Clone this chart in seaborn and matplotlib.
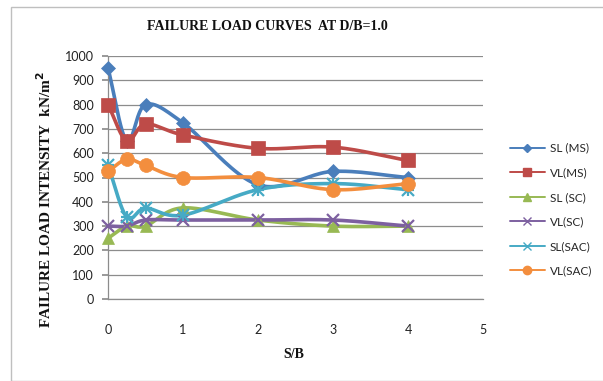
import numpy as np
import pandas as pd
import matplotlib
matplotlib.use("Agg")
import matplotlib.pyplot as plt
import seaborn as sns
from matplotlib.lines import Line2D
from matplotlib.patches import Rectangle

# S/B ratios
sb = [0, 0.25, 0.5, 1, 2, 3, 4]

# Failure load intensity (kN/m^2)
sl_ms = [950, 650, 800, 725, 470, 525, 500]
vl_ms = [800, 650, 720, 675, 620, 625, 570]
sl_sc = [250, 300, 300, 375, 325, 300, 300]
vl_sc = [300, 300, 325, 325, 325, 325, 300]
sl_sac = [550, 337, 374, 345, 450, 475, 450]
vl_sac = [525, 575, 550, 500, 500, 450, 475]

series_names = ["SL (MS)", "VL(MS)", "SL (SC)", "VL(SC)", "SL(SAC)", "VL(SAC)"]
series_vals = [sl_ms, vl_ms, sl_sc, vl_sc, sl_sac, vl_sac]
colors = ["#4A7EBB", "#BE4B48", "#98B954", "#7D60A0", "#46AAC5", "#F38E3E"]
markers = ["D", "s", "^", "x", "x", "o"]
msizes = [7, 10, 9, 9, 9, 10]

sns.set_theme(style="white")
plt.rcParams["font.family"] = ["Lato", "DejaVu Sans"]

W, H = 603, 381
fig = plt.figure(figsize=(W / 100, H / 100), dpi=100)
ax = fig.add_axes([108 / W, 1 - 299 / H, (483 - 108) / W, (299 - 56) / H])

# chart frame
fig.patches.append(Rectangle((11 / W, 0), 1, 1 - 7 / H, transform=fig.transFigure,
                             fill=False, edgecolor="#BFBFBF", lw=1.0, zorder=0))


def smooth(x, y, n=24):
    """Catmull-Rom curve through the points, evaluated in screen-like units."""
    sx, sy = 375 / 5.0, 243 / 1000.0
    P = np.column_stack([np.asarray(x, float) * sx, np.asarray(y, float) * sy])
    P = np.vstack([P[0] - (P[1] - P[0]), P, P[-1] + (P[-1] - P[-2])])
    out = []
    for i in range(1, len(P) - 2):
        p0, p1, p2, p3 = P[i - 1], P[i], P[i + 1], P[i + 2]
        t = np.linspace(0, 1, n, endpoint=False)[:, None]
        seg = 0.5 * ((2 * p1) + (-p0 + p2) * t + (2 * p0 - 5 * p1 + 4 * p2 - p3) * t ** 2
                     + (-p0 + 3 * p1 - 3 * p2 + p3) * t ** 3)
        out.append(seg)
    out.append(P[-2][None, :])
    out = np.vstack(out)
    return out[:, 0] / sx, out[:, 1] / sy


for name, vals, c, m, ms in zip(series_names, series_vals, colors, markers, msizes):
    xs, ys = smooth(sb, vals)
    sns.lineplot(x=xs, y=ys, ax=ax, color=c, lw=2.6, sort=False, estimator=None)
    mew = 1.6 if m == "x" else 0.5
    ax.plot(sb, vals, linestyle="none", marker=m, markersize=ms, color=c,
            markeredgecolor=c, markeredgewidth=mew, zorder=5, clip_on=False)
    if name == "SL(SAC)":
        ax.plot(sb, vals, linestyle="none", marker="+", markersize=ms, color=c,
                markeredgewidth=mew, zorder=5, clip_on=False)

ax.set_xlim(0, 5)
ax.set_ylim(0, 1000)
ax.set_xticks(range(0, 6))
ax.set_yticks(range(0, 1001, 100))
ax.yaxis.grid(True, color="#8C8C8C", lw=0.9)
ax.xaxis.grid(False)
for s in ["left", "bottom"]:
    ax.spines[s].set_color("#8C8C8C")
    ax.spines[s].set_linewidth(0.9)
for s in ["top", "right"]:
    ax.spines[s].set_visible(False)
ax.tick_params(axis="both", labelsize=9, colors="#222222", length=0, pad=12)
ax.tick_params(axis="y", pad=6, length=4, color="#8C8C8C", left=True, direction="out")
ax.tick_params(axis="x", pad=18)

serif = ["Liberation Serif", "DejaVu Serif"]
fig.text(267 / W, 1 - 27 / H, "FAILURE LOAD CURVES  AT D/B=1.0", ha="center", va="center",
         family=serif, weight="bold", fontsize=10, color="#111111")
fig.text(294 / W, 1 - 355 / H, "S/B", ha="center", va="center",
         family=serif, weight="bold", fontsize=10, color="#111111")
fig.text(45 / W, 1 - 200 / H, "FAILURE LOAD INTENSITY  kN/m$^{\\mathbf{2}}$", ha="center", va="center",
         rotation=90, family=serif, weight="bold", fontsize=11, color="#111111")

handles = []
for name, c, m, ms in zip(series_names, colors, markers, msizes):
    handles.append(Line2D([], [], color=c, lw=1.4, marker=m, markersize=ms * 0.6,
                          markeredgewidth=1.0, label=name))
leg = fig.legend(handles=handles, loc="upper left", bbox_to_anchor=(505 / W, 1 - 138 / H),
                 frameon=False, fontsize=8.5, handlelength=3.0, labelspacing=1.15,
                 handletextpad=0.4, borderaxespad=0)

fig.savefig("out.png", dpi=100, facecolor="white")
